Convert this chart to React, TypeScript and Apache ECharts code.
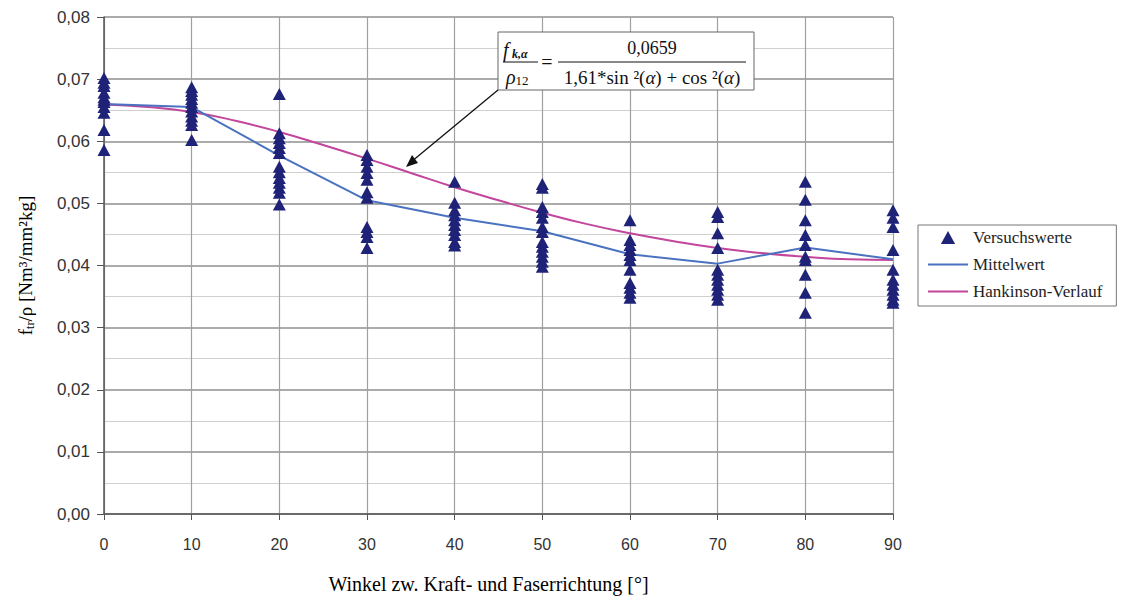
import React, { useEffect, useRef } from "react";
import * as echarts from "echarts";

const angles = [0, 10, 20, 30, 40, 50, 60, 70, 80, 90];

const testValues: number[][] = [
  [0.0702, 0.0694, 0.0689, 0.0678, 0.0671, 0.0667, 0.0663, 0.0655, 0.0646, 0.0618, 0.0586],
  [0.0687, 0.0681, 0.0675, 0.0668, 0.0662, 0.0655, 0.0648, 0.0640, 0.0633, 0.0626, 0.0602],
  [0.0676, 0.0613, 0.0605, 0.0597, 0.0589, 0.0581, 0.0559, 0.0550, 0.0541, 0.0533, 0.0525, 0.0517, 0.0498],
  [0.0578, 0.0570, 0.0559, 0.0549, 0.0538, 0.0518, 0.0509, 0.0462, 0.0454, 0.0446, 0.0428],
  [0.0535, 0.0501, 0.0489, 0.0481, 0.0473, 0.0465, 0.0457, 0.0449, 0.0438, 0.0432],
  [0.0531, 0.0525, 0.0494, 0.0486, 0.0477, 0.0462, 0.0454, 0.0438, 0.0430, 0.0422, 0.0414, 0.0406, 0.0398],
  [0.0473, 0.0441, 0.0433, 0.0425, 0.0417, 0.0409, 0.0393, 0.0372, 0.0364, 0.0356, 0.0348],
  [0.0486, 0.0478, 0.0452, 0.0428, 0.0393, 0.0385, 0.0377, 0.0369, 0.0361, 0.0353, 0.0345],
  [0.0535, 0.0506, 0.0473, 0.0449, 0.0433, 0.0414, 0.0409, 0.0385, 0.0356, 0.0324],
  [0.0489, 0.0477, 0.0462, 0.0425, 0.0393, 0.0377, 0.0369, 0.0361, 0.0353, 0.0345, 0.0340],
];

const meanValues = [0.066, 0.0655, 0.0577, 0.0505, 0.0477, 0.0455, 0.0418, 0.0403, 0.0429, 0.041];

const hankAngles = [0, 5, 10, 15, 20, 25, 30, 35, 40, 45, 50, 55, 60, 65, 70, 75, 80, 85, 90];
const hankValues = [
  0.0659, 0.0655, 0.0647, 0.0633, 0.0615, 0.0594, 0.0572, 0.0549, 0.0526, 0.0505,
  0.0485, 0.0467, 0.0452, 0.0439, 0.0428, 0.0420, 0.0414, 0.0410, 0.0409,
];

const yTicks = ["0,00", "0,01", "0,02", "0,03", "0,04", "0,05", "0,06", "0,07", "0,08"];

const SERIF = "'Liberation Serif', 'DejaVu Serif', serif";
const SANS = "'Liberation Sans', Arial, sans-serif";

export default function App() {
  const ref = useRef<HTMLDivElement>(null);

  useEffect(() => {
    if (!ref.current) return;
    const chart = echarts.init(ref.current, undefined, { renderer: "svg" });

    const scatterData: number[][] = [];
    angles.forEach((a, i) => testValues[i].forEach((v) => scatterData.push([a, v])));

    const lineIcon = "path://M0,0 L40,0 L40,2 L0,2 Z";

    const option: any = {
      animation: false,
      backgroundColor: "#ffffff",
      grid: { left: 104, right: 233, top: 17, bottom: 87, containLabel: false },
      xAxis: {
        type: "value",
        min: 0,
        max: 90,
        interval: 10,
        name: "Winkel zw. Kraft- und Faserrichtung [°]",
        nameLocation: "middle",
        nameGap: 60,
        nameTextStyle: { fontFamily: SERIF, fontSize: 20, color: "#000", padding: [0, 20, 0, 0] },
        axisLine: { show: true, onZero: false, lineStyle: { color: "#555", width: 1.5 } },
        axisTick: { show: true, length: 6, lineStyle: { color: "#555" } },
        axisLabel: { fontFamily: SANS, fontSize: 16, color: "#333", margin: 22 },
        splitLine: { show: true, lineStyle: { color: "#a0a0a0", width: 1.2 } },
      },
      yAxis: {
        type: "value",
        min: 0,
        max: 0.08,
        interval: 0.01,
        name: "{a|f}{s|tr}{a|/ρ [Nm³/mm²kg]}",
        nameLocation: "middle",
        nameRotate: 90,
        nameGap: 68,
        nameTextStyle: {
          rich: {
            a: { fontFamily: SERIF, fontSize: 19, color: "#000" },
            s: { fontFamily: SERIF, fontSize: 12, color: "#000", verticalAlign: "bottom", padding: [9, 0, 0, 0] },
          },
        },
        axisLine: { show: true, lineStyle: { color: "#555", width: 1.5 } },
        axisTick: { show: true, length: 7, lineStyle: { color: "#555" } },
        axisLabel: {
          fontFamily: SANS,
          fontSize: 17,
          color: "#333",
          margin: 14,
          formatter: (v: number) => yTicks[Math.round(v * 100)],
        },
        splitLine: { show: true, lineStyle: { color: "#8f8f8f", width: 1.6 } },
        minorTick: { show: false, splitNumber: 2 },
        minorSplitLine: { show: true, lineStyle: { color: "#cfcfcf", width: 1.2 } },
      },
      legend: {
        orient: "vertical",
        left: 918,
        top: 225,
        backgroundColor: "#ffffff",
        borderColor: "#777",
        borderWidth: 1,
        padding: [4, 14, 6, 10],
        itemWidth: 40,
        itemHeight: 13,
        itemGap: 10,
        textStyle: { fontFamily: SERIF, fontSize: 17, color: "#222" },
        data: [
          { name: "Versuchswerte", icon: "path://M6,0 L12,11 L0,11 Z" },
          { name: "Mittelwert", icon: lineIcon },
          { name: "Hankinson-Verlauf", icon: lineIcon },
        ],
      },
      series: [
        {
          name: "Hankinson-Verlauf",
          type: "line",
          data: hankAngles.map((a, i) => [a, hankValues[i]]),
          smooth: true,
          symbol: "none",
          lineStyle: { color: "#c2469b", width: 2 },
          itemStyle: { color: "#c2469b" },
          z: 2,
        },
        {
          name: "Mittelwert",
          type: "line",
          data: angles.map((a, i) => [a, meanValues[i]]),
          symbol: "none",
          lineStyle: { color: "#4a72c0", width: 2 },
          itemStyle: { color: "#4a72c0" },
          z: 3,
        },
        {
          name: "Versuchswerte",
          type: "scatter",
          data: scatterData,
          symbol: "triangle",
          symbolSize: [13, 12],
          itemStyle: { color: "#1f2378", opacity: 1 },
          z: 4,
        },
      ],
      graphic: [
        {
          type: "line",
          shape: { x1: 498, y1: 90, x2: 411, y2: 162 },
          style: { stroke: "#111", lineWidth: 1.3 },
          z: 100,
        },
        {
          type: "polygon",
          shape: { points: [[406, 167], [412, 155], [418, 163]] },
          style: { fill: "#111" },
          z: 100,
        },
        {
          type: "rect",
          shape: { x: 498, y: 32, width: 256, height: 58 },
          style: { fill: "#ffffff", stroke: "#666", lineWidth: 1 },
          z: 100,
        },
        {
          type: "text",
          x: 503,
          y: 50,
          style: {
            text: "{f|f} {k|k,α}",
            rich: {
              f: { fontFamily: SERIF, fontSize: 20, fontStyle: "italic", fill: "#111" },
              k: { fontFamily: SERIF, fontSize: 12, fontStyle: "italic", fontWeight: "bold", fill: "#111", padding: [7, 0, 0, 0] },
            },
            verticalAlign: "middle",
          },
          z: 101,
        },
        {
          type: "line",
          shape: { x1: 503, y1: 62, x2: 538, y2: 62 },
          style: { stroke: "#111", lineWidth: 1 },
          z: 101,
        },
        {
          type: "text",
          x: 506,
          y: 77,
          style: {
            text: "{r|ρ}{n|12}",
            rich: {
              r: { fontFamily: SERIF, fontSize: 20, fontStyle: "italic", fill: "#111" },
              n: { fontFamily: SERIF, fontSize: 13, fill: "#111", padding: [7, 0, 0, 0] },
            },
            verticalAlign: "middle",
          },
          z: 101,
        },
        {
          type: "text",
          x: 547,
          y: 62,
          style: { text: "=", fontFamily: SERIF, fontSize: 20, fill: "#111", align: "center", verticalAlign: "middle" },
          z: 101,
        },
        {
          type: "text",
          x: 652,
          y: 48,
          style: { text: "0,0659", fontFamily: SERIF, fontSize: 18, fill: "#111", align: "center", verticalAlign: "middle" },
          z: 101,
        },
        {
          type: "line",
          shape: { x1: 558, y1: 62, x2: 746, y2: 62 },
          style: { stroke: "#111", lineWidth: 1 },
          z: 101,
        },
        {
          type: "text",
          x: 652,
          y: 77,
          style: {
            text: "{n|1,61*sin ²(}{i|α}{n|) + cos ²(}{i|α}{n|)}",
            rich: {
              n: { fontFamily: SERIF, fontSize: 19, fill: "#111" },
              i: { fontFamily: SERIF, fontSize: 19, fontStyle: "italic", fill: "#111" },
            },
            align: "center",
            verticalAlign: "middle",
          },
          z: 101,
        },
      ],
    };

    chart.setOption(option);
    return () => chart.dispose();
  }, []);

  return <div ref={ref} style={{ width: 1126, height: 601, position: "absolute", left: 0, top: 0 }} />;
}
